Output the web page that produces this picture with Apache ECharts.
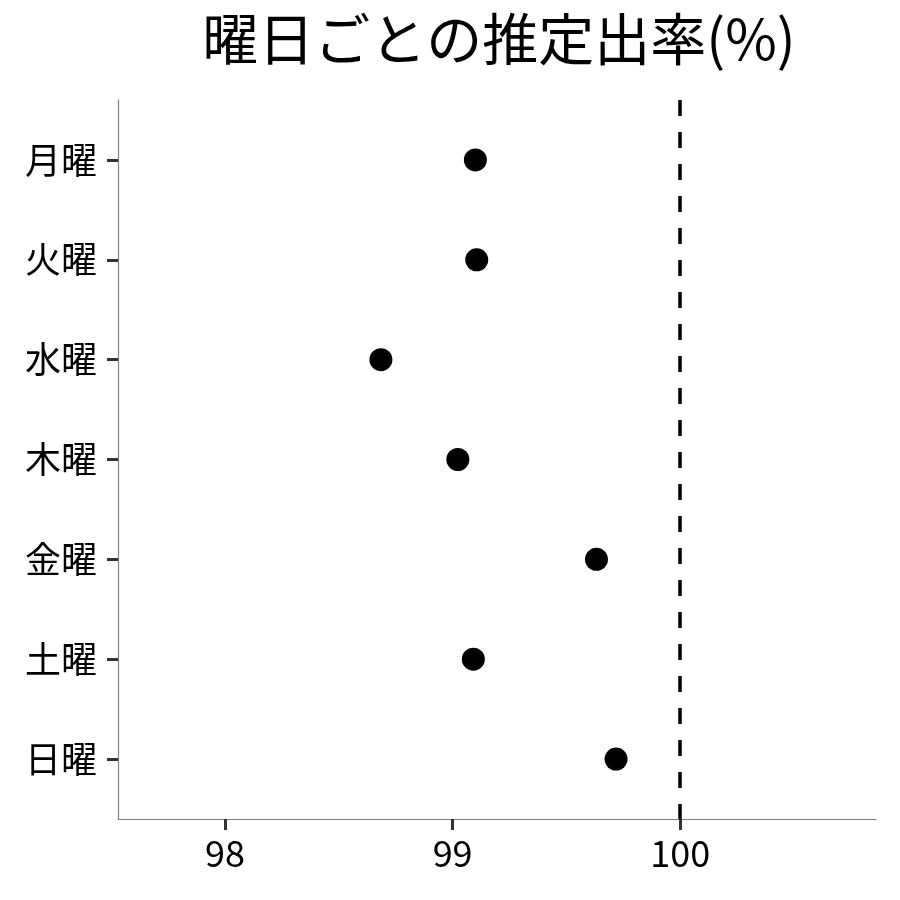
<!DOCTYPE html>
<html>
<head>
<meta charset="utf-8">
<script src="https://cdn.jsdelivr.net/npm/echarts@6/dist/echarts.min.js"></script>
<style>
  html, body { margin: 0; padding: 0; background: #fff; }
  #main { width: 900px; height: 900px; }
</style>
</head>
<body>
<div id="main"></div>
<script>
// 曜日ごとの推定出率
const days = ['月曜', '火曜', '水曜', '木曜', '金曜', '土曜', '日曜'];
const rates = [99.10, 99.106, 98.685, 99.023, 99.632, 99.091, 99.718];
const xTicks = [98, 99, 100];
const refLine = 100;

const font = '"Noto Sans CJK JP", "Noto Sans", sans-serif';
const chart = echarts.init(document.getElementById('main'));

const option = {
    backgroundColor: '#fff',
    animation: false,
    title: {
        text: '曜日ごとの推定出率(%)',
        left: 494,
        top: 6,
        textAlign: 'center',
        textStyle: { fontFamily: font, fontSize: 56, fontWeight: 'normal', color: '#000' }
    },
    grid: { left: 118, right: 24, top: 100, bottom: 81, containLabel: false },
    xAxis: {
        type: 'value',
        min: 97.53,
        max: 100.86,
        splitLine: { show: false },
        axisLine: { onZero: false, lineStyle: { color: '#7f7f7f', width: 1.2 } },
        axisTick: { customValues: xTicks, length: 11, lineStyle: { color: '#333', width: 3 } },
        axisLabel: { customValues: xTicks, margin: 16, fontFamily: font, fontSize: 36, color: '#000' }
    },
    yAxis: {
        type: 'value',
        min: -0.6,
        max: 6.6,
        inverse: true,
        splitLine: { show: false },
        axisLine: { show: true, onZero: false, lineStyle: { color: '#7f7f7f', width: 1.2 } },
        axisTick: { show: true, customValues: days.map((d, i) => i), length: 11, lineStyle: { color: '#333', width: 3 } },
        axisLabel: {
            customValues: days.map((d, i) => i),
            margin: 21,
            fontFamily: font, fontSize: 36, color: '#000',
            formatter: v => days[Math.round(v)]
        }
    },
    series: [{
        type: 'scatter',
        data: rates.map((r, i) => [r, i]),
        symbol: 'circle',
        symbolSize: 23,
        itemStyle: { color: '#000', opacity: 1 },
        markLine: {
            silent: true,
            symbol: 'none',
            label: { show: false },
            lineStyle: { color: '#000', width: 3.5, type: [16, 16] },
            data: [{ xAxis: refLine }]
        }
    }]
};
chart.setOption(option);
</script>
</body>
</html>
